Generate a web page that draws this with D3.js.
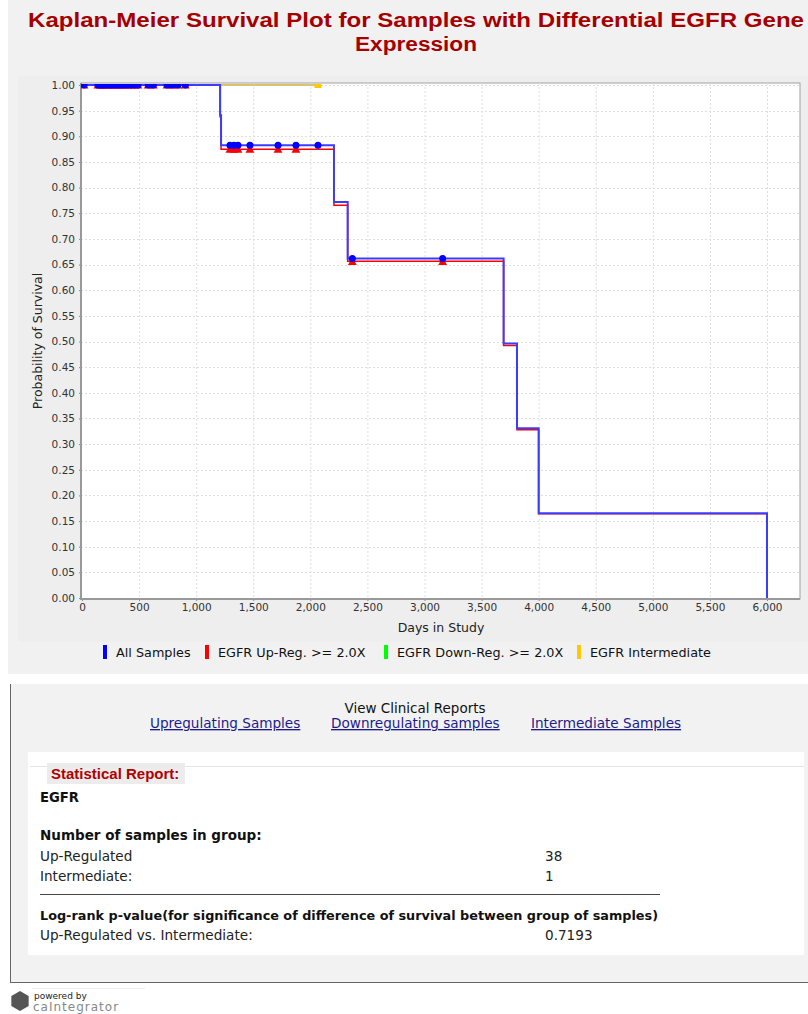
<!DOCTYPE html>
<html>
<head>
<meta charset="utf-8">
<script src="https://cdnjs.cloudflare.com/ajax/libs/d3/7.8.5/d3.min.js"></script>
<style>
body { margin: 0; background: #ffffff; }
svg { display: block; }
</style>
</head>
<body>
<svg id="chart"></svg>
<script>
// survival steps: [day, probability]
var allSteps = [[0, 1], [1210, 0.9412], [1218, 0.8824], [2207, 0.7721], [2327, 0.6618], [3693, 0.4963], [3810, 0.3309], [4000, 0.1654], [6000, 0]]
var upSteps = [[0, 1], [1210, 0.9375], [1218, 0.875], [2207, 0.7656], [2327, 0.6562], [3693, 0.4922], [3810, 0.3281], [4000, 0.1641], [6000, 0]]
var interSteps = [[0, 1], [2067, 1]]

// censored samples (days)
var upCensored = [18, 140, 160, 180, 200, 225, 250, 270, 295, 320, 345, 370, 400, 430, 460, 490, 580, 625, 745, 790, 840, 905, 1296, 1331, 1366, 1471, 1717, 1874, 2368, 3159]
var interCensored = [2067]
var allCensored = upCensored.concat(interCensored)

var xTicks = [0, 500, 1000, 1500, 2000, 2500, 3000, 3500, 4000, 4500, 5000, 5500, 6000]
var yTicks = d3.range(0, 21).map(function (i) { return i / 20 })

var legendItems = [
	{ name: "All Samples", color: "#0000ff" },
	{ name: "EGFR Up-Reg. >= 2.0X", color: "#ff0000" },
	{ name: "EGFR Down-Reg. >= 2.0X", color: "#00ff00" },
	{ name: "EGFR Intermediate", color: "#ffc800" }
]

var groupCounts = [["Up-Regulated", "38"], ["Intermediate:", "1"]]
var pValues = [["Up-Regulated vs. Intermediate:", "0.7193"]]
var reportLinks = ["Upregulating Samples", "Downregulating samples", "Intermediate Samples"]

var width = 808,
	height = 1014
var svg = d3.select("#chart")
	.attr("width", width)
	.attr("height", height)
	.style("font-family", "DejaVu Sans")

// chart image background
svg.append("rect").attr("x", 8).attr("y", 0).attr("width", 800).attr("height", 674).attr("fill", "#f1f1f1")
svg.append("rect").attr("x", 18).attr("y", 76).attr("width", 790).attr("height", 566).attr("fill", "#eeeeee")

svg.append("text")
	.attr("x", 416).attr("y", 27)
	.attr("text-anchor", "middle")
	.attr("textLength", 776).attr("lengthAdjust", "spacingAndGlyphs")
	.style("font-family", "Liberation Sans")
	.style("font-weight", "bold").style("font-size", "20px")
	.attr("fill", "#a50000")
	.text("Kaplan-Meier Survival Plot for Samples with Differential EGFR Gene")
svg.append("text")
	.attr("x", 416).attr("y", 51)
	.attr("text-anchor", "middle")
	.attr("textLength", 122).attr("lengthAdjust", "spacingAndGlyphs")
	.style("font-family", "Liberation Sans")
	.style("font-weight", "bold").style("font-size", "20px")
	.attr("fill", "#a50000")
	.text("Expression")

var plot = { left: 81, top: 83, right: 800, bottom: 599 }
var x = d3.scaleLinear().domain([0, 6000]).range([82, 767])
var y = d3.scaleLinear().domain([0, 1]).range([598, 85])

svg.append("rect")
	.attr("x", plot.left).attr("y", plot.top)
	.attr("width", plot.right - plot.left).attr("height", plot.bottom - plot.top)
	.attr("fill", "#ffffff").attr("stroke", "#a0a0a0")

svg.append("defs").append("clipPath").attr("id", "plotclip")
	.append("rect")
	.attr("x", plot.left).attr("y", plot.top + 1)
	.attr("width", plot.right - plot.left).attr("height", plot.bottom - plot.top - 1)

// grid
svg.append("g").selectAll("line")
	.data(xTicks.slice(1))
	.enter().append("line")
	.attr("x1", function (d) { return x(d) + 0.5 }).attr("x2", function (d) { return x(d) + 0.5 })
	.attr("y1", plot.top).attr("y2", plot.bottom)
	.attr("stroke", "#dedede").attr("stroke-dasharray", "2,2")
svg.append("g").selectAll("line")
	.data(yTicks.slice(1))
	.enter().append("line")
	.attr("y1", function (d) { return Math.round(y(d)) + 0.5 }).attr("y2", function (d) { return Math.round(y(d)) + 0.5 })
	.attr("x1", plot.left).attr("x2", plot.right)
	.attr("stroke", "#dedede").attr("stroke-dasharray", "2,2")

// axes
var xAxis = svg.append("g")
	.attr("transform", "translate(0," + plot.bottom + ")")
	.call(d3.axisBottom(x).tickValues(xTicks).tickFormat(d3.format(",")).tickSize(2).tickPadding(3))
var yAxis = svg.append("g")
	.attr("transform", "translate(" + plot.left + ",0)")
	.call(d3.axisLeft(y).tickValues(yTicks).tickFormat(d3.format(".2f")).tickSize(2).tickPadding(4))
xAxis.select(".domain").remove()
yAxis.select(".domain").remove()
svg.selectAll(".tick text").style("font-family", "DejaVu Sans").style("font-size", "10.5px").attr("fill", "#333")
svg.selectAll(".tick line").attr("stroke", "#888")
svg.append("line").attr("x1", plot.left).attr("x2", plot.left).attr("y1", plot.top).attr("y2", plot.bottom + 1)
	.attr("stroke", "#999").attr("stroke-width", 2)
svg.append("line").attr("x1", plot.left).attr("x2", plot.right).attr("y1", plot.bottom).attr("y2", plot.bottom)
	.attr("stroke", "#999").attr("stroke-width", 2)

svg.append("text")
	.attr("x", 441).attr("y", 632)
	.attr("text-anchor", "middle")
	.style("font-size", "12.5px").attr("fill", "#222")
	.text("Days in Study")
svg.append("text")
	.attr("transform", "translate(42,341) rotate(-90)")
	.attr("text-anchor", "middle")
	.style("font-size", "12.5px").attr("fill", "#222")
	.text("Probability of Survival")

// curves
var stepLine = d3.line()
	.x(function (d) { return x(d[0]) })
	.y(function (d) { return y(d[1]) })
	.curve(d3.curveStepAfter)

var curves = svg.append("g").attr("clip-path", "url(#plotclip)")

function survivalAt(steps, t) {
	var v = steps[0][1]
	steps.forEach(function (s) { if (s[0] <= t) v = s[1] })
	return v
}

curves.append("path").datum(interSteps)
	.attr("d", stepLine).attr("fill", "none")
	.attr("stroke", "#dcc26e").attr("stroke-width", 2)
curves.append("path").datum(upSteps)
	.attr("d", stepLine).attr("fill", "none")
	.attr("stroke", "#ff0000").attr("stroke-width", 1.5)
curves.append("path").datum(allSteps)
	.attr("d", stepLine).attr("fill", "none")
	.attr("stroke", "#3c3cff").attr("stroke-width", 2)

curves.selectAll(".inter-mark")
	.data(interCensored)
	.enter().append("rect")
	.attr("class", "inter-mark")
	.attr("x", function (d) { return x(d) - 3.5 })
	.attr("y", function (d) { return y(survivalAt(interSteps, d)) - 3 })
	.attr("width", 7).attr("height", 6)
	.attr("fill", "#ffc800")

var tri = d3.symbol().type(d3.symbolTriangle).size(34)
curves.selectAll(".up-mark")
	.data(upCensored)
	.enter().append("path")
	.attr("class", "up-mark")
	.attr("d", tri)
	.attr("transform", function (d) { return "translate(" + x(d) + "," + (y(survivalAt(upSteps, d)) + 1) + ")" })
	.attr("fill", "#ff0000")

curves.selectAll(".all-mark")
	.data(allCensored)
	.enter().append("circle")
	.attr("class", "all-mark")
	.attr("cx", function (d) { return x(d) })
	.attr("cy", function (d) { return y(survivalAt(allSteps, d)) })
	.attr("r", 3.5)
	.attr("fill", "#0000ff")

// legend
var legendX = [103, 205, 384, 577]
var legend = svg.append("g").selectAll("g")
	.data(legendItems)
	.enter().append("g")
	.attr("transform", function (d, i) { return "translate(" + legendX[i] + ",645)" })
legend.append("rect").attr("width", 4).attr("height", 14).attr("fill", function (d) { return d.color })
legend.append("text")
	.attr("x", 13).attr("y", 12)
	.style("font-size", "12.8px").attr("fill", "#111")
	.text(function (d) { return d.name })

// clinical report box
svg.append("rect").attr("x", 10).attr("y", 684).attr("width", 798).attr("height", 298).attr("fill", "#f2f2f2")
svg.append("line").attr("x1", 10.5).attr("x2", 10.5).attr("y1", 684).attr("y2", 982).attr("stroke", "#666")
svg.append("line").attr("x1", 10).attr("x2", 808).attr("y1", 982.5).attr("y2", 982.5).attr("stroke", "#666")

svg.append("text")
	.attr("x", 415).attr("y", 713)
	.attr("text-anchor", "middle")
	.style("font-size", "13.5px").attr("fill", "#111")
	.text("View Clinical Reports")

var linkX = [150, 331, 531]
var links = svg.append("g").selectAll("text")
	.data(reportLinks)
	.enter().append("text")
	.attr("x", function (d, i) { return linkX[i] })
	.attr("y", 728)
	.style("font-size", "13.6px")
	.style("text-decoration", "underline")
	.attr("fill", "#1c1c8c")
	.text(function (d) { return d })

svg.append("rect").attr("x", 28).attr("y", 752).attr("width", 776).attr("height", 203).attr("fill", "#ffffff")
svg.append("line").attr("x1", 30).attr("x2", 804).attr("y1", 766.5).attr("y2", 766.5).attr("stroke", "#e4e4e4")
svg.append("rect").attr("x", 47).attr("y", 763).attr("width", 138).attr("height", 21).attr("fill", "#ececec")
svg.append("text")
	.attr("x", 51).attr("y", 779)
	.style("font-family", "Liberation Sans")
	.style("font-size", "15px").style("font-weight", "bold")
	.attr("fill", "#b00000")
	.text("Statistical Report:")

svg.append("text")
	.attr("x", 40).attr("y", 802)
	.style("font-size", "13.2px").style("font-weight", "bold").attr("fill", "#111")
	.text("EGFR")
svg.append("text")
	.attr("x", 40).attr("y", 840)
	.style("font-size", "13.5px").style("font-weight", "bold").attr("fill", "#111")
	.text("Number of samples in group:")

var rows = svg.append("g").selectAll("g")
	.data(groupCounts)
	.enter().append("g")
	.attr("transform", function (d, i) { return "translate(0," + (861 + i * 20) + ")" })
rows.append("text").attr("x", 40).style("font-size", "13.6px").attr("fill", "#222").text(function (d) { return d[0] })
rows.append("text").attr("x", 545).style("font-size", "13.6px").attr("fill", "#222").text(function (d) { return d[1] })

svg.append("line").attr("x1", 40).attr("x2", 660).attr("y1", 894.5).attr("y2", 894.5).attr("stroke", "#444")

svg.append("text")
	.attr("x", 40).attr("y", 920)
	.attr("textLength", 618).attr("lengthAdjust", "spacingAndGlyphs")
	.style("font-size", "13px").style("font-weight", "bold").attr("fill", "#111")
	.text("Log-rank p-value(for significance of difference of survival between group of samples)")

var prow = svg.append("g").selectAll("g")
	.data(pValues)
	.enter().append("g")
	.attr("transform", function (d, i) { return "translate(0," + (940 + i * 20) + ")" })
prow.append("text").attr("x", 40).style("font-size", "13.6px").attr("fill", "#222").text(function (d) { return d[0] })
prow.append("text").attr("x", 545).style("font-size", "13.6px").attr("fill", "#222").text(function (d) { return d[1] })

// powered by logo
var hex = d3.range(6).map(function (i) {
	var a = Math.PI / 3 * i + Math.PI / 6
	return [20 + 10 * Math.cos(a), 1001 + 10 * Math.sin(a)]
})
svg.append("polygon").attr("points", hex.join(" ")).attr("fill", "#555")
svg.append("line").attr("x1", 32).attr("x2", 145).attr("y1", 988.5).attr("y2", 988.5).attr("stroke", "#eee")
svg.append("text")
	.attr("x", 34).attr("y", 999)
	.style("font-size", "9px").attr("fill", "#222")
	.text("powered by")
svg.append("text")
	.attr("x", 33).attr("y", 1011)
	.style("font-size", "12px").style("letter-spacing", "1px").attr("fill", "#888")
	.text("caIntegrator")
</script>
</body>
</html>
